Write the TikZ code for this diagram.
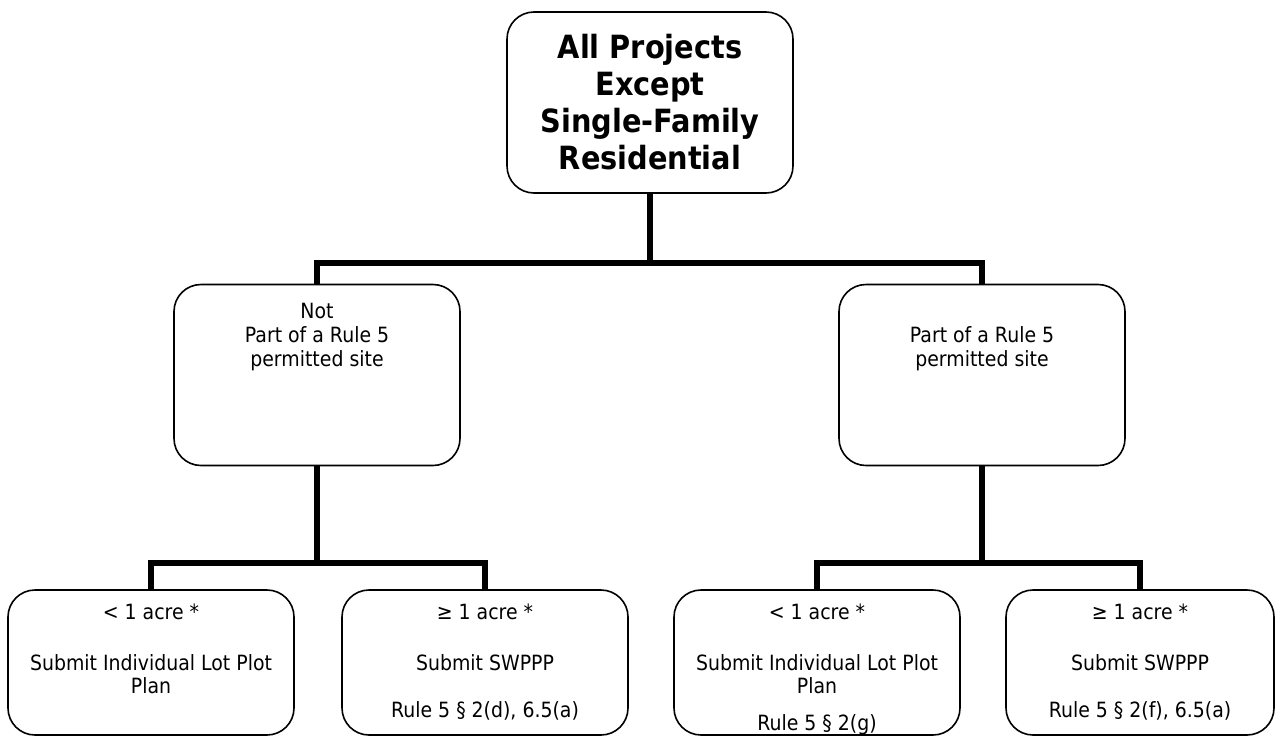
\documentclass[tikz,border=0pt]{standalone}
\usepackage{fontspec}
\setmainfont{DejaVu Sans}[FakeStretch=0.9]
\begin{document}
\begin{tikzpicture}[x=1pt,y=-1pt,
  card/.style={draw, line width=1.6pt, rounded corners=27pt, inner sep=0pt,
               minimum width=286pt, minimum height=181pt},
  low/.style={card, minimum height=145pt},
  conn/.style={line width=6pt},
  reg/.style={align=center, font=\fontsize{21}{24}\selectfont, inner sep=0pt, anchor=north},
  sub/.style={align=center, font=\fontsize{21}{23}\selectfont, inner sep=0pt, anchor=north},
  big/.style={align=center, font=\fontsize{32}{37}\selectfont\bfseries}
]
\useasboundingbox (0,0) rectangle (1284,736);

% top box
\node[card, big] (top) at (650,102.5) {All Projects\\Except\\Single-Family\\Residential};

% middle boxes
\node[card, label={[reg, yshift=-19pt]north:{Not\\Part of a Rule 5\\permitted site}}] (ml) at (317,375) {};
\node[card, label={[reg, yshift=-43pt]north:{Part of a Rule 5\\permitted site}}] (mr) at (982,375) {};

% bottom boxes
\node[low, label={[sub, yshift=-15pt]north:{< 1 acre *\\[28pt]Submit Individual Lot Plot\\Plan}}] (b1) at (151,662.5) {};
\node[low, label={[sub, yshift=-15pt]north:{≥ 1 acre *\\[28pt]Submit SWPPP\\[24pt]Rule 5 § 2(d), 6.5(a)}}] (b2) at (485,662.5) {};
\node[low, label={[sub, yshift=-15pt]north:{< 1 acre *\\[28pt]Submit Individual Lot Plot\\Plan\\[14pt]Rule 5 § 2(g)}}] (b3) at (817,662.5) {};
\node[low, minimum width=268pt, label={[sub, yshift=-15pt]north:{≥ 1 acre *\\[28pt]Submit SWPPP\\[24pt]Rule 5 § 2(f), 6.5(a)}}] (b4) at (1140,662.5) {};

% junctions
\coordinate (j1) at (650,263);
\coordinate (j2) at (317,563);
\coordinate (j3) at (982,563);

% connectors
\draw[conn] (top.south) -- (j1);
\draw[conn] (ml.north) -- (ml.north |- j1) -- (mr.north |- j1) -- (mr.north);
\draw[conn] (ml.south) -- (j2);
\draw[conn] (b1.north) -- (b1.north |- j2) -- (b2.north |- j2) -- (b2.north);
\draw[conn] (mr.south) -- (j3);
\draw[conn] (b3.north) -- (b3.north |- j3) -- (b4.north |- j3) -- (b4.north);
\end{tikzpicture}
\end{document}
